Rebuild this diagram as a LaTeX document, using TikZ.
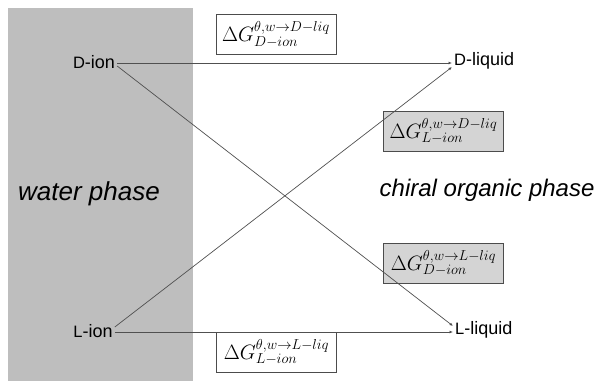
\documentclass[tikz,border=0pt]{standalone}
\usepackage{fontspec}
\setsansfont{Liberation Sans}
\usetikzlibrary{arrows.meta}
\definecolor{panelgray}{RGB}{190,190,190}
\definecolor{boxgray}{RGB}{212,212,212}
\definecolor{linegray}{RGB}{80,80,80}
\newcommand\smallcapD[1]{{\fontsize{16.5}{18}\selectfont #1}}
\tikzset{
  species/.style={font=\sffamily\fontsize{18}{21}\selectfont, inner sep=2pt},
  phase/.style={font=\sffamily\itshape},
  gbox/.style={draw=black!70, line width=0.6pt, minimum width=120pt, minimum height=40pt, inner sep=1pt, font=\fontsize{21}{24}\selectfont},
  conn/.style={draw=linegray, line width=0.7pt, -{Latex[length=3.5pt,width=3pt]}}
}
\begin{document}
\begin{tikzpicture}[x=1pt,y=-1pt]
\useasboundingbox (0,0) rectangle (599,381);
\fill[panelgray] (8,8) rectangle (193,381);
\node[phase, font=\sffamily\itshape\fontsize{26}{30}\selectfont] (water) at (89,194) {water phase};
\node[phase, font=\sffamily\itshape\fontsize{24}{28}\selectfont, anchor=east] (org) at (598,190) {chiral organic phase};
\node[species] (Dion) at (94,62) {\smallcapD{D}-ion};
\node[species] (Lion) at (93,331) {\smallcapD{L}-ion};
\node[species, anchor=west] (Dliq) at (452,61) {\smallcapD{D}-liquid};
\node[species, anchor=west] (Lliq) at (453,330) {\smallcapD{L}-liquid};
\node[gbox, fill=white] (g1) at (276,34.5) {$\Delta G^{\theta,w\rightarrow D-liq}_{D-ion}$};
\node[gbox, fill=boxgray] (g2) at (443.5,131) {$\Delta G^{\theta,w\rightarrow D-liq}_{L-ion}$};
\node[gbox, fill=boxgray] (g3) at (443.5,263) {$\Delta G^{\theta,w\rightarrow L-liq}_{D-ion}$};
\node[gbox, fill=white] (g4) at (276.5,352) {$\Delta G^{\theta,w\rightarrow L-liq}_{L-ion}$};
\draw[conn] ([yshift=-1pt]Dion.east) -- ([yshift=-2pt]Dliq.west);
\draw[conn] ([yshift=-4pt]Dion.east) -- ([yshift=4pt]Lliq.west);
\draw[conn] ([yshift=4pt]Lion.east) -- ([yshift=-6pt]Dliq.west);
\draw[conn] ([yshift=-1pt]Lion.east) -- ([yshift=-2pt]Lliq.west);
\end{tikzpicture}
\end{document}
